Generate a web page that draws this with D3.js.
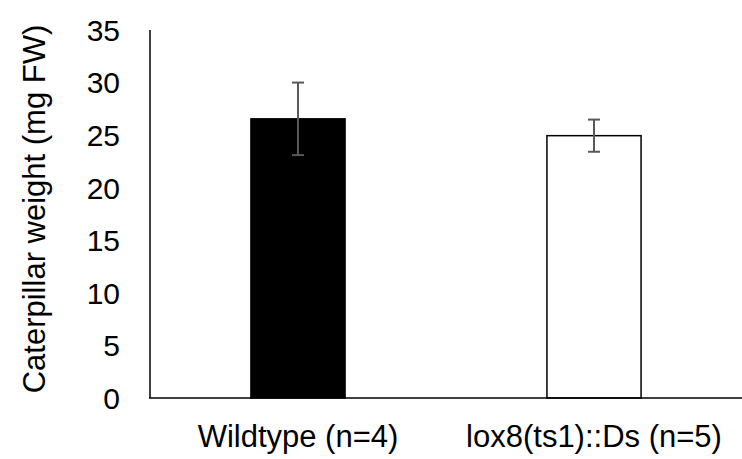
<!DOCTYPE html>
<html>
<head>
<meta charset="utf-8">
<script src="https://cdn.jsdelivr.net/npm/d3@7.9.0/dist/d3.min.js"></script>
<style>
  body { margin: 0; background: #fff; }
  svg text { font-family: Arial, "Liberation Sans", sans-serif; fill: #000; }
</style>
</head>
<body>
<svg id="chart" width="742" height="459"></svg>
<script>
// data
const groups = ['Wildtype (n=4)', 'lox8(ts1)::Ds (n=5)'];
const means = [26.55, 24.95];
const errors = [3.45, 1.53];
const fills = ['#000000', '#ffffff'];
const yTicks = [0, 5, 10, 15, 20, 25, 30, 35];

const svg = d3.select('#chart');
const plotLeft = 150, plotRight = 742, plotTop = 30, plotBottom = 398;

const x = d3.scaleBand().domain(groups).range([plotLeft, plotRight]).padding(0);
const y = d3.scaleLinear().domain([0, 35]).range([plotBottom, plotTop]);
const barW = x.bandwidth() * 0.318;

// bars
svg.selectAll('rect.bar')
  .data(groups)
  .join('rect')
  .attr('class', 'bar')
  .attr('x', d => x(d) + x.bandwidth() / 2 - barW / 2)
  .attr('y', (d, i) => y(means[i]))
  .attr('width', barW)
  .attr('height', (d, i) => y(0) - y(means[i]))
  .attr('fill', (d, i) => fills[i])
  .attr('stroke', '#000')
  .attr('stroke-width', 1.5);

// error bars
const eb = svg.selectAll('g.err')
  .data(groups)
  .join('g')
  .attr('class', 'err')
  .attr('stroke', '#595959')
  .attr('stroke-width', 2);

eb.append('line')
  .attr('x1', d => x(d) + x.bandwidth() / 2)
  .attr('x2', d => x(d) + x.bandwidth() / 2)
  .attr('y1', (d, i) => y(means[i] + errors[i]))
  .attr('y2', (d, i) => y(means[i] - errors[i]));

[1, -1].forEach(s => {
  eb.append('line')
    .attr('x1', d => x(d) + x.bandwidth() / 2 - 6)
    .attr('x2', d => x(d) + x.bandwidth() / 2 + 6)
    .attr('y1', (d, i) => y(means[i] + s * errors[i]))
    .attr('y2', (d, i) => y(means[i] + s * errors[i]));
});

// axes lines
svg.append('line')
  .attr('x1', plotLeft).attr('x2', plotLeft)
  .attr('y1', y(35)).attr('y2', y(0))
  .attr('stroke', '#000').attr('stroke-width', 1.5);
svg.append('line')
  .attr('x1', plotLeft - 1).attr('x2', plotRight)
  .attr('y1', y(0)).attr('y2', y(0))
  .attr('stroke', '#000').attr('stroke-width', 1.5);

// y tick labels
svg.selectAll('text.ytick')
  .data(yTicks)
  .join('text')
  .attr('class', 'ytick')
  .attr('x', 120)
  .attr('y', d => y(d))
  .attr('dy', '0.36em')
  .attr('text-anchor', 'end')
  .style('font-size', '30px')
  .text(d => d);

// category labels
svg.selectAll('text.xlab')
  .data(groups)
  .join('text')
  .attr('class', 'xlab')
  .attr('x', d => x(d) + x.bandwidth() / 2)
  .attr('y', 447)
  .attr('text-anchor', 'middle')
  .style('font-size', '31px')
  .text(d => d);

// y title
svg.append('text')
  .attr('transform', 'translate(45,' + ((y(0) + y(35)) / 2 - 5) + ') rotate(-90)')
  .attr('text-anchor', 'middle')
  .style('font-size', '31px')
  .text('Caterpillar weight (mg FW)');
</script>
</body>
</html>
